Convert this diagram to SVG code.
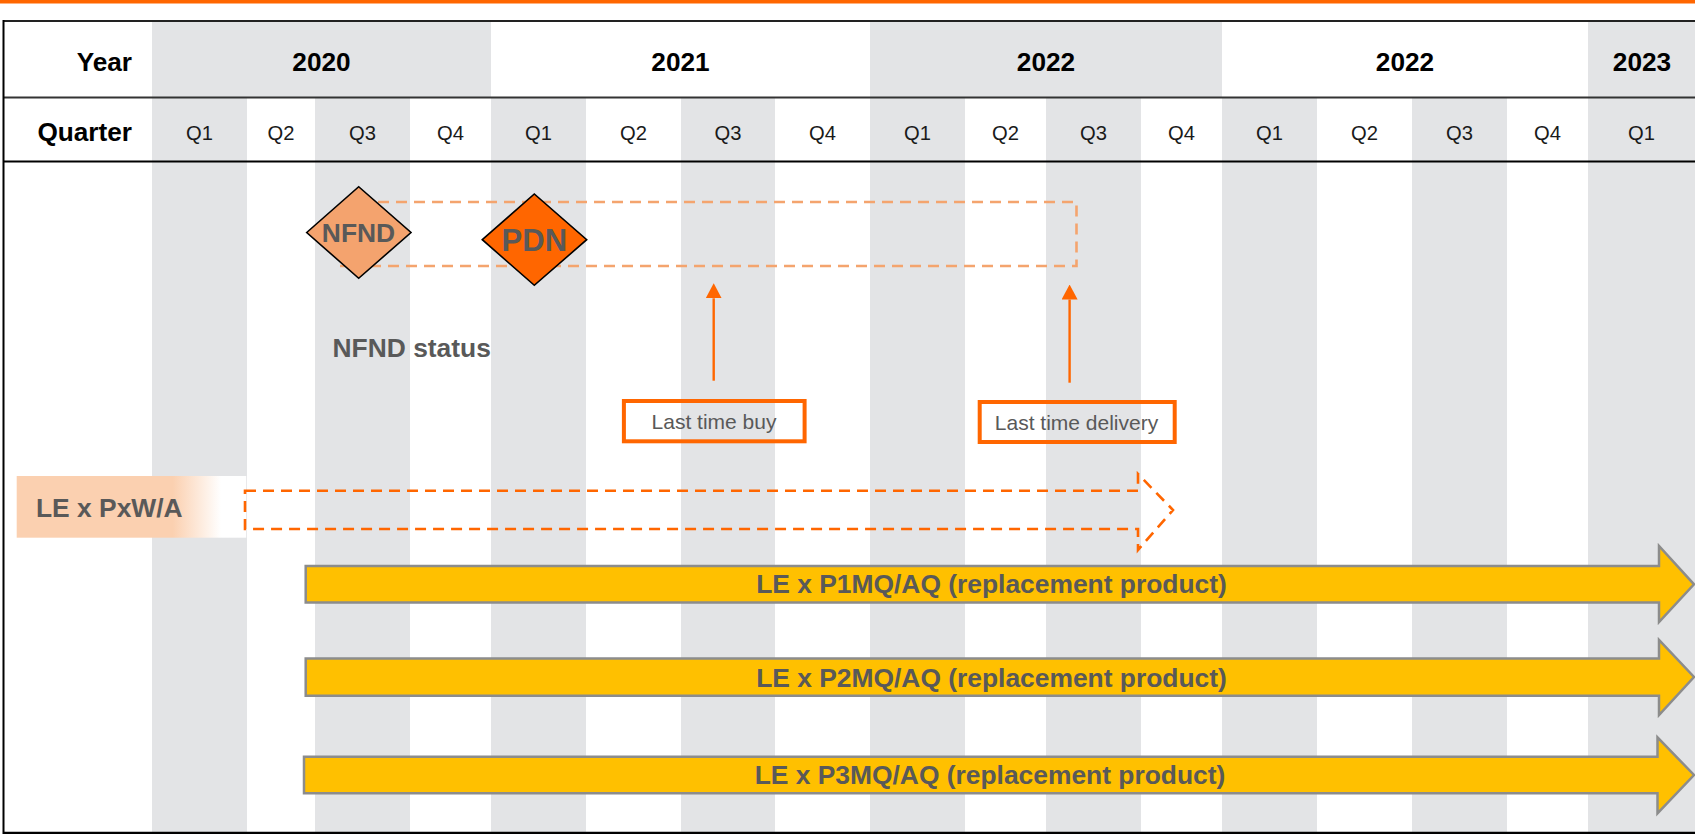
<svg xmlns="http://www.w3.org/2000/svg" width="1695" height="834" viewBox="0 0 1695 834">
  <defs>
    <style>
      .t { font-family: "Liberation Sans", Arial, sans-serif; }
      .hdr { font-size: 26.2px; font-weight: bold; fill: #000; }
      .q { font-size: 20.2px; fill: #1a1a1a; text-anchor: middle; }
      .lbl { font-size: 26.4px; font-weight: bold; fill: #595959; }
      .call { font-size: 21px; fill: #595959; text-anchor: middle; }
      .stripe { fill: #E3E4E6; }
      .bar { fill: #FFC000; stroke: #8C8C8C; stroke-width: 2.5; }
      .box { fill: none; stroke: #FF6600; stroke-width: 4; }
      .conn { stroke: #FF6600; stroke-width: 2.4; fill: none; }
    </style>
    <marker id="ah" viewBox="0 0 15 16" refX="0" refY="8" markerWidth="15" markerHeight="16" markerUnits="userSpaceOnUse" orient="auto">
      <path d="M0,0 L15,8 L0,16 Z" fill="#FF6600"/>
    </marker>
    <linearGradient id="fade" x1="0" y1="0" x2="1" y2="0">
      <stop offset="0" stop-color="#FBD0B0"/>
      <stop offset="0.68" stop-color="#FBD0B0"/>
      <stop offset="0.89" stop-color="#FFFFFF"/>
      <stop offset="1" stop-color="#FFFFFF"/>
    </linearGradient>
  </defs>

  <rect x="0" y="0" width="1695" height="834" fill="#FFFFFF"/>
  <rect x="0" y="0" width="1695" height="3.5" fill="#FF6600"/>

  <g id="grid">
    <rect class="stripe" x="152" y="21" width="339" height="77"/>
    <rect class="stripe" x="870" y="21" width="352" height="77"/>
    <rect class="stripe" x="1588" y="21" width="107" height="77"/>
    <rect class="stripe" x="152" y="98" width="95" height="735"/>
    <rect class="stripe" x="315" y="98" width="95" height="735"/>
    <rect class="stripe" x="491" y="98" width="95" height="735"/>
    <rect class="stripe" x="681" y="98" width="94" height="735"/>
    <rect class="stripe" x="870" y="98" width="95" height="735"/>
    <rect class="stripe" x="1046" y="98" width="95" height="735"/>
    <rect class="stripe" x="1222" y="98" width="95" height="735"/>
    <rect class="stripe" x="1412" y="98" width="95" height="735"/>
    <rect class="stripe" x="1588" y="98" width="107" height="735"/>
    <line x1="3" y1="21" x2="1695" y2="21" stroke="#222" stroke-width="1.8"/>
    <line x1="3" y1="97.5" x2="1695" y2="97.5" stroke="#333" stroke-width="1.8"/>
    <line x1="3" y1="161.5" x2="1695" y2="161.5" stroke="#000" stroke-width="2.2"/>
    <line x1="3.5" y1="20" x2="3.5" y2="834" stroke="#000" stroke-width="2"/>
    <line x1="3" y1="832.8" x2="1695" y2="832.8" stroke="#000" stroke-width="2.2"/>
  </g>

  <g id="header" class="t">
    <text class="hdr" x="132" y="70.5" text-anchor="end">Year</text>
    <text class="hdr" x="132" y="140.5" text-anchor="end">Quarter</text>
    <text class="hdr" x="321.5" y="70.5" text-anchor="middle">2020</text>
    <text class="hdr" x="680.5" y="70.5" text-anchor="middle">2021</text>
    <text class="hdr" x="1046" y="70.5" text-anchor="middle">2022</text>
    <text class="hdr" x="1405" y="70.5" text-anchor="middle">2022</text>
    <text class="hdr" x="1642" y="70.5" text-anchor="middle">2023</text>
    <text class="q" x="199.5" y="139.5">Q1</text>
    <text class="q" x="281" y="139.5">Q2</text>
    <text class="q" x="362.5" y="139.5">Q3</text>
    <text class="q" x="450.5" y="139.5">Q4</text>
    <text class="q" x="538.5" y="139.5">Q1</text>
    <text class="q" x="633.5" y="139.5">Q2</text>
    <text class="q" x="728" y="139.5">Q3</text>
    <text class="q" x="822.5" y="139.5">Q4</text>
    <text class="q" x="917.5" y="139.5">Q1</text>
    <text class="q" x="1005.5" y="139.5">Q2</text>
    <text class="q" x="1093.5" y="139.5">Q3</text>
    <text class="q" x="1181.5" y="139.5">Q4</text>
    <text class="q" x="1269.5" y="139.5">Q1</text>
    <text class="q" x="1364.5" y="139.5">Q2</text>
    <text class="q" x="1459.5" y="139.5">Q3</text>
    <text class="q" x="1547.5" y="139.5">Q4</text>
    <text class="q" x="1641.5" y="139.5">Q1</text>
  </g>

  <g id="nfnd-period">
    <path d="M360 202 H1076.5 V266 H340" fill="none" stroke="#F4A46E" stroke-width="2.6" stroke-dasharray="11 7"/>
  </g>

  <g id="nfnd-diamond">
    <polygon points="306.7,232.5 358.7,186.7 411,232.5 358.7,278.3" fill="#F4A36E" stroke="#000" stroke-width="1.6"/>
    <text class="t lbl" x="358.5" y="242" text-anchor="middle">NFND</text>
  </g>

  <g id="pdn-diamond">
    <polygon points="482.3,239.7 534.3,194 586.7,239.7 534.3,285.3" fill="#FF6600" stroke="#000" stroke-width="1.6"/>
    <text class="t lbl" x="534.3" y="251" text-anchor="middle" style="font-size:31px">PDN</text>
  </g>

  <g id="nfnd-status">
    <text class="t lbl" x="332.5" y="356.7">NFND status</text>
  </g>

  <g id="last-time-buy">
    <rect class="box" x="623.9" y="401" width="180.7" height="40.3"/>
    <text class="t call" x="714" y="429">Last time buy</text>
  </g>

  <g id="last-time-delivery">
    <rect class="box" x="979.7" y="402" width="195" height="40"/>
    <text class="t call" x="1076.5" y="430">Last time delivery</text>
  </g>

  <g id="le-pxwa">
    <rect x="16.7" y="476" width="229.5" height="61.7" fill="url(#fade)"/>
    <text class="t lbl" x="36" y="516.7">LE x PxW/A</text>
    <path d="M245 490.7 H1138 V474 L1173 510 L1138 550 V529 H245 Z" fill="none" stroke="#FF6600" stroke-width="2.6" stroke-dasharray="11 7"/>
  </g>

  <g id="p1mq">
    <path class="bar" d="M305.7 566 H1659 V546 L1694 584.3 L1659 622 V602.5 H305.7 Z"/>
    <text class="t lbl" x="991.5" y="593.3" text-anchor="middle">LE x P1MQ/AQ (replacement product)</text>
  </g>

  <g id="p2mq">
    <path class="bar" d="M305.7 658.5 H1659 V640 L1694 677 L1659 715 V695.7 H305.7 Z"/>
    <text class="t lbl" x="991.5" y="686.5" text-anchor="middle">LE x P2MQ/AQ (replacement product)</text>
  </g>

  <g id="p3mq">
    <path class="bar" d="M304 756.7 H1657.5 V737.3 L1694 775 L1657.5 813.3 V793.3 H304 Z"/>
    <text class="t lbl" x="990" y="784" text-anchor="middle">LE x P3MQ/AQ (replacement product)</text>
  </g>

  <g id="connectors">
    <line class="conn" x1="713.7" y1="380.7" x2="713.7" y2="298.3" marker-end="url(#ah)"/>
    <line class="conn" x1="1069.6" y1="382.7" x2="1069.6" y2="299.5" marker-end="url(#ah)"/>
  </g>
</svg>
